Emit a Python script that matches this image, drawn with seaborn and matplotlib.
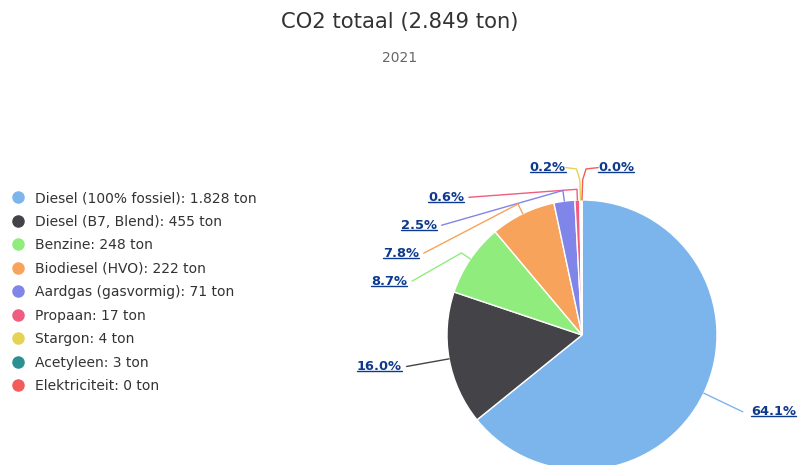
import numpy as np
import matplotlib
matplotlib.use('Agg')
import matplotlib.pyplot as plt
from matplotlib.lines import Line2D
import seaborn as sns

sns.set_style('white')
plt.rcParams['font.family'] = ['DejaVu Sans']

categories = ['Diesel (100% fossiel)', 'Diesel (B7, Blend)', 'Benzine', 'Biodiesel (HVO)',
              'Aardgas (gasvormig)', 'Propaan', 'Stargon', 'Acetyleen', 'Elektriciteit']
tons = [1828, 455, 248, 222, 71, 17, 4, 3, 0]
ton_text = ['1.828', '455', '248', '222', '71', '17', '4', '3', '0']
pct_labels = ['64.1%', '16.0%', '8.7%', '7.8%', '2.5%', '0.6%', '0.2%', '', '0.0%']
colors = sns.color_palette(['#7cb5ec', '#434348', '#90ed7d', '#f7a35c', '#8085e9',
                            '#f15c80', '#e4d354', '#2b908f', '#f45b5b'])

W, H = 799, 465
cx, cy, rad = 582, 335, 135  # pie centre / radius in pixels

fig = plt.figure(figsize=(W / 100, H / 100), dpi=100)
ax = fig.add_axes([0, 0, 1, 1])

wedges, _ = ax.pie(tons, colors=colors, startangle=90, counterclock=False,
                   radius=1, wedgeprops=dict(edgecolor='white', linewidth=1))
ax.set_aspect('auto')
ax.set_xlim(-cx / rad, (W - cx) / rad)
ax.set_ylim((cy - H) / rad, cy / rad)
ax.axis('off')

# data labels, roughly like highcharts: spread on the left, tiny ones on top
R = 1.32
gap = 0.207
top_y = 1.02
lab_color = '#0d3a8f'
lab_kw = dict(va='center', fontsize=9.4, fontweight='bold', color=lab_color)
texts = []
side_labels = []
for i, w in enumerate(wedges):
    if not pct_labels[i]:
        continue
    a = np.deg2rad((w.theta1 + w.theta2) / 2)
    ca, sa = np.cos(a), np.sin(a)
    if abs(np.rad2deg(a) % 360 - 90) <= 1.5:
        side = -1 if np.round(ca, 6) < 0 else 1
        lx = side * 0.12
        ax.plot([ca, ca + side * 0.005, ca + side * 0.03, lx],
                [sa, 1.15, 1.23, 1.24], color=colors[i], lw=1, zorder=1)
        texts.append(ax.text(lx, 1.24, pct_labels[i],
                             ha='right' if side < 0 else 'left', **lab_kw))
    else:
        side_labels.append((i, ca, sa))

prev = None
for i, ca, sa in sorted(side_labels, key=lambda v: -v[2]):
    y = R * sa
    side = -1 if ca < 0 else 1
    if side < 0:
        y = min(y, top_y) if prev is None else min(y, prev - gap)
        prev = y
        pad = 0.035
    else:
        pad = 0.06
    x = side * np.sqrt(max(R ** 2 - y ** 2, 0))
    ax.plot([ca, ca * 1.08, x], [sa, sa * 1.08, y], color=colors[i], lw=1, zorder=1)
    texts.append(ax.text(x + side * pad, y, pct_labels[i],
                         ha='left' if side > 0 else 'right', **lab_kw))

fig.text(0.5, 1 - 22 / H, 'CO2 totaal (2.849 ton)', ha='center', va='center',
         fontsize=15.2, color='#333333')
fig.text(0.5, 1 - 58 / H, '2021', ha='center', va='center', fontsize=10, color='#666666')

handles = [Line2D([], [], marker='o', linestyle='', markersize=8, color=c) for c in colors]
labels = [f'{c}: {t} ton' for c, t in zip(categories, ton_text)]
leg = fig.legend(handles, labels, loc='upper left', bbox_to_anchor=(12 / W, 1 - 191 / H),
                 frameon=False, fontsize=10, labelspacing=0.685, handlelength=0.9,
                 handletextpad=0.75, borderpad=0, borderaxespad=0)
for t in leg.get_texts():
    t.set_color('#333333')

# underline the percentage labels
fig.canvas.draw()
rend = fig.canvas.get_renderer()
for t in texts:
    bb = t.get_window_extent(rend)
    yy = (bb.y0 + 2) / H
    fig.add_artist(Line2D([bb.x0 / W, bb.x1 / W], [yy, yy], color=lab_color, lw=1,
                          transform=fig.transFigure))

fig.savefig('out.png', dpi=100)
